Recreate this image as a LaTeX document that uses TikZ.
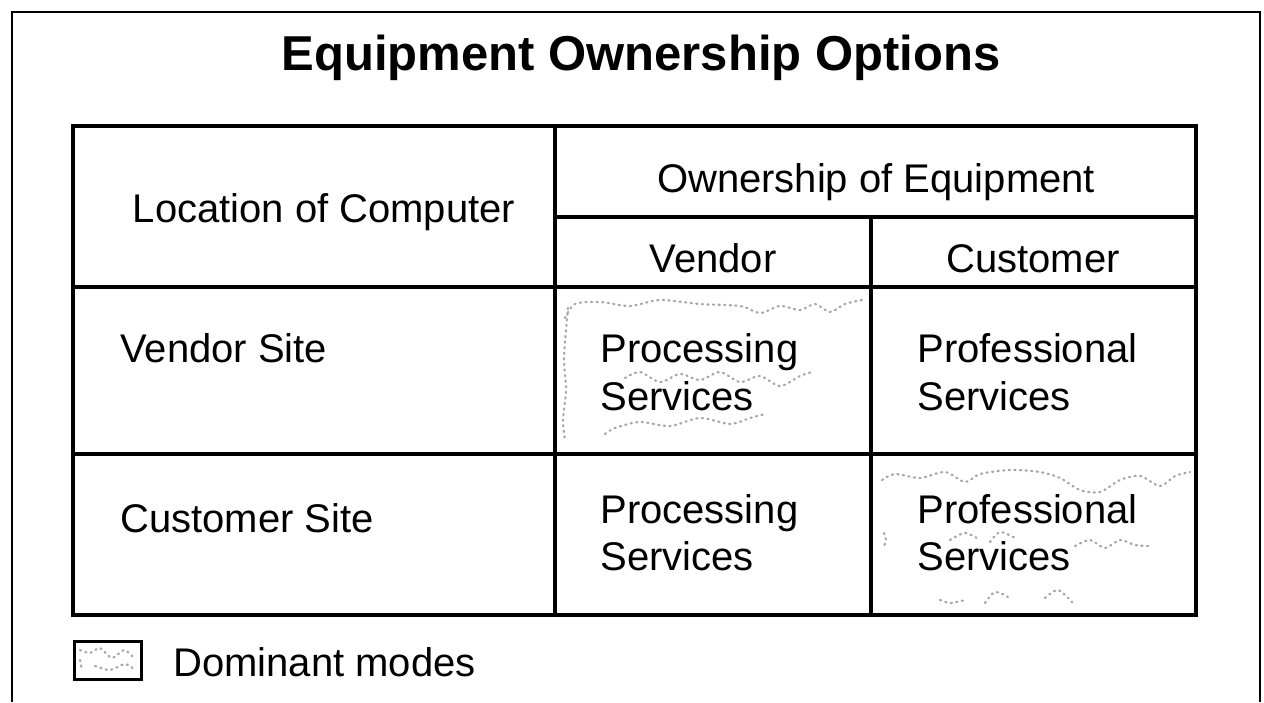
\documentclass[tikz,border=0pt]{standalone}
\usepackage{fontspec}
\setmainfont{Liberation Sans}
\begin{document}
\begin{tikzpicture}[x=0.5pt,y=-0.5pt,
  frameline/.style={line width=1pt, black},
  gridline/.style={line width=2pt, black},
  celltext/.style={font=\fontsize{20}{24}\selectfont, inner sep=0pt},
  titletext/.style={font=\fontsize{24.5}{29}\selectfont\bfseries, inner sep=0pt},
  stipple/.style={line width=1.1pt, gray!70, dash pattern=on 0.6pt off 2.2pt, line cap=round}]
\useasboundingbox (0,0) rectangle (1264,702);
% outer frame (open at bottom)
\draw[frameline] (12,702) -- (12,12) -- (1260,12) -- (1260,702);
% title
\node[titletext, anchor=base] (title) at (641,70) {Equipment Ownership Options};
% table grid
\draw[gridline] (73,126) rectangle (1196,615);
\draw[gridline] (555,126) -- (555,615);
\draw[gridline] (871,217) -- (871,615);
\draw[gridline] (555,217) -- (1196,217);
\draw[gridline] (73,287) -- (1196,287);
\draw[gridline] (73,454) -- (1196,454);
% stipple: vendor/vendor cell
\draw[stipple] plot[smooth] coordinates {(565,318) (575,304) (600,302) (630,306) (660,300) (700,304) (740,306) (760,313) (780,306) (800,310) (815,304) (830,312) (845,304) (862,300)};
\draw[stipple] plot[smooth] coordinates {(568,308) (566,330) (564,360) (566,390) (563,420) (565,440)};
\draw[stipple] plot[smooth] coordinates {(625,378) (640,372) (660,382) (680,374) (700,380) (720,372) (740,382) (760,376) (780,386) (800,376) (812,372)};
\draw[stipple] plot[smooth] coordinates {(605,434) (615,428) (640,422) (670,426) (700,418) (730,424) (750,418) (765,414)};
% stipple: customer/customer cell
\draw[stipple] plot[smooth] coordinates {(882,480) (895,474) (920,478) (945,472) (965,482) (980,474) (1010,470) (1040,472) (1060,478) (1080,490) (1100,492) (1120,480) (1140,476) (1160,486) (1175,476) (1190,472)};
\draw[stipple] plot[smooth] coordinates {(884,533) (886,540) (884,546)};
\draw[stipple] plot[smooth] coordinates {(950,540) (965,533) (980,540)};
\draw[stipple] plot[smooth] coordinates {(990,542) (1000,532) (1015,538)};
\draw[stipple] plot[smooth] coordinates {(1075,546) (1090,540) (1105,548) (1120,540) (1135,545) (1150,546)};
\draw[stipple] plot[smooth] coordinates {(940,600) (950,603) (965,600)};
\draw[stipple] plot[smooth] coordinates {(985,603) (995,592) (1008,597)};
\draw[stipple] plot[smooth] coordinates {(1045,598) (1058,590) (1072,602)};
% header texts
\node[celltext, anchor=base] (loc) at (324,222) {Location of Computer};
\node[celltext, anchor=base] (own) at (876,192) {Ownership of Equipment};
\node[celltext, anchor=base] (vend) at (713,272) {Vendor};
\node[celltext, anchor=base] (cust) at (1033,272) {Customer};
% row labels
\node[celltext, anchor=base west] (vsite) at (120,362) {Vendor Site};
\node[celltext, anchor=base west] (csite) at (120,532) {Customer Site};
% cells
\node[celltext, anchor=base west, align=left] (p1a) at (600,362) {Processing};
\node[celltext, anchor=base west] (p1b) at (600,410) {Services};
\node[celltext, anchor=base west] (q1a) at (917,362) {Professional};
\node[celltext, anchor=base west] (q1b) at (917,410) {Services};
\node[celltext, anchor=base west] (p2a) at (600,523) {Processing};
\node[celltext, anchor=base west] (p2b) at (600,570) {Services};
\node[celltext, anchor=base west] (q2a) at (917,523) {Professional};
\node[celltext, anchor=base west] (q2b) at (917,570) {Services};
% legend
\draw[line width=1.5pt] (74,641) rectangle (141,679);
\draw[stipple] plot[smooth] coordinates {(80,650) (90,653) (100,648) (112,658) (124,650) (134,658)};
\draw[stipple] plot[smooth] coordinates {(80,660) (82,670)};
\draw[stipple] plot[smooth] coordinates {(95,666) (110,670) (125,664) (135,670)};
\node[celltext, anchor=base west] (legtext) at (173,676) {Dominant modes};
\end{tikzpicture}
\end{document}
